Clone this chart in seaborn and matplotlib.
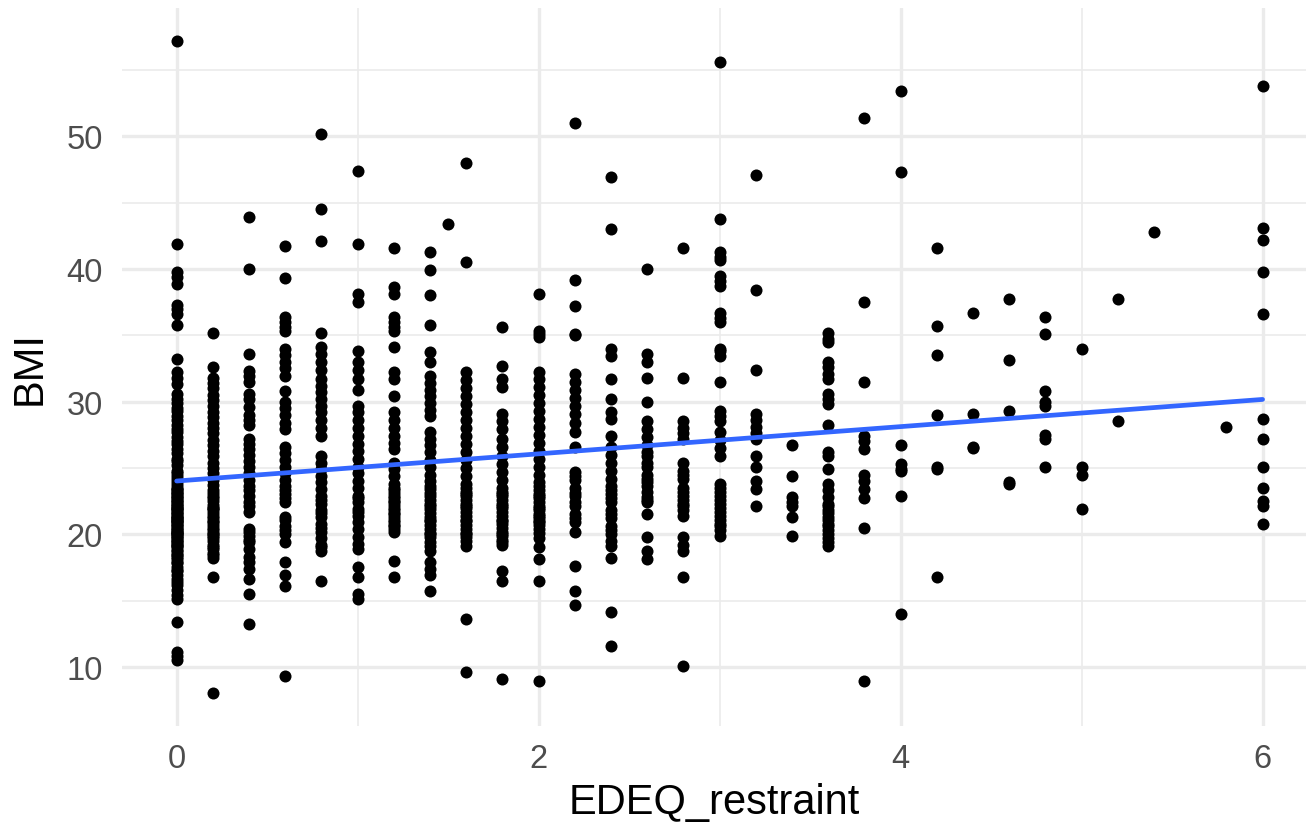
import numpy as np
import pandas as pd
import matplotlib
matplotlib.use("Agg")
import matplotlib.pyplot as plt
import seaborn as sns
from matplotlib.ticker import MultipleLocator

# BMI values, one list per EDEQ_restraint level
# (dense columns get extra overlapping points in their crowded middle)
y_00 = [57.2, 41.9, 39.8, 39.4, 38.9, 37.3, 37.0, 36.6, 35.8, 33.2, 32.2, 31.8, 31.3,
        30.6, 30.2, 29.9, 29.5, 29.3, 28.9, 28.6, 28.2, 27.9, 27.7, 27.3, 27.0, 26.8,
        26.4, 26.1, 25.7, 25.5, 25.2, 24.8, 24.6, 24.2, 23.9, 23.7, 23.4, 23.1, 22.8,
        22.6, 22.3, 22.0, 21.8, 21.5, 21.2, 21.0, 20.7, 20.5, 20.2, 20.0, 19.8, 19.5,
        19.3, 19.0, 18.7, 18.4, 18.1, 17.8, 17.5, 17.2, 16.9, 16.6, 16.2, 15.8, 15.4,
        15.1, 13.4, 11.1, 10.8, 10.5, 23.0, 22.1, 21.4, 20.9, 20.3, 21.9, 22.4, 19.6,
        23.3, 24.4, 17.9, 18.3, 18.8, 19.1, 19.4, 19.7, 20.1, 20.4, 20.6, 20.8, 21.1,
        21.3, 21.6, 21.7, 22.2, 22.5, 22.7, 22.9, 23.2, 23.5, 19.9, 20.0, 21.0, 22.0,
        18.5, 19.2, 20.2, 21.2, 17.3, 16.4]
y_02 = [35.2, 32.6, 31.8, 31.4, 31.0, 30.5, 30.1, 29.7, 29.2, 28.8, 28.4, 28.0, 27.6,
        27.1, 26.7, 26.3, 25.9, 25.4, 25.0, 24.6, 24.1, 23.7, 23.3, 22.9, 22.5, 22.0,
        21.6, 21.2, 20.7, 20.3, 19.9, 19.5, 19.0, 18.6, 18.2, 16.8, 8.0, 19.2, 19.7,
        20.1, 20.5, 20.9, 21.4, 21.8, 22.2, 22.7, 23.1, 18.4, 18.9, 20.0, 21.0, 22.0]
y_04 = [43.9, 40.0, 33.6, 32.3, 31.9, 31.5, 30.6, 30.2, 29.6, 29.0, 28.6, 28.2, 27.2,
        26.8, 26.4, 26.0, 25.5, 25.1, 24.6, 24.1, 23.6, 22.9, 22.4, 21.7, 20.4, 19.9,
        19.4, 18.9, 18.3, 17.9, 17.4, 16.6, 15.5, 13.2, 19.6, 20.2, 22.1, 23.3]
y_06 = [41.7, 39.3, 36.4, 36.0, 35.6, 35.3, 34.0, 33.5, 33.0, 32.5, 31.9, 30.8, 30.0,
        29.5, 29.0, 28.4, 27.9, 26.6, 26.1, 25.6, 25.1, 24.6, 24.1, 23.6, 23.0, 22.4,
        21.1, 20.6, 20.0, 19.4, 17.9, 16.9, 16.1, 9.3, 20.3, 21.3, 22.7, 23.3]
y_08 = [50.2, 44.5, 42.1, 35.2, 34.1, 33.6, 33.0, 32.4, 31.7, 31.2, 30.7, 30.2, 29.7,
        29.2, 28.6, 28.0, 27.4, 25.9, 25.4, 24.9, 24.4, 23.9, 23.4, 22.9, 22.3, 21.8,
        21.3, 20.8, 20.2, 19.7, 19.2, 18.7, 16.5, 19.0, 20.5, 21.6, 22.6]
y_10 = [47.4, 41.9, 38.1, 37.5, 33.8, 33.0, 32.4, 31.7, 30.9, 29.7, 29.2, 28.6, 28.0,
        27.4, 26.8, 26.3, 25.7, 25.1, 24.6, 24.0, 23.5, 22.9, 22.4, 21.9, 21.4, 20.4,
        19.8, 19.3, 18.9, 17.5, 16.8, 15.5, 15.1, 20.9, 21.7, 22.7]
y_12 = [41.6, 38.6, 38.1, 36.4, 36.0, 35.6, 35.3, 34.1, 32.2, 31.7, 30.4, 29.2, 28.6,
        28.0, 27.4, 26.9, 26.4, 25.4, 24.9, 24.4, 23.8, 23.3, 22.7, 22.2, 21.6, 21.1,
        20.6, 20.2, 18.0, 16.8, 20.4, 20.9, 21.3, 21.8, 22.0, 22.4, 22.9, 23.1, 20.7,
        21.5, 22.5, 23.5]
y_14 = [41.3, 39.9, 38.0, 35.8, 33.7, 33.0, 31.9, 31.4, 30.9, 30.4, 29.9, 29.4, 28.9,
        27.7, 27.2, 26.7, 26.2, 25.6, 25.1, 24.5, 24.0, 23.4, 22.9, 21.9, 21.3, 20.7,
        20.1, 19.4, 18.7, 17.9, 17.4, 16.9, 15.7, 19.8, 20.4, 21.0, 21.6, 22.1, 22.6,
        23.1, 19.1, 20.0, 21.1, 22.3, 23.6]
y_15 = [43.4]
y_16 = [48.0, 40.5, 32.2, 31.6, 31.0, 30.4, 29.8, 29.2, 28.6, 28.0, 27.4, 26.8, 26.2,
        25.6, 25.0, 24.4, 23.8, 23.2, 22.6, 22.0, 21.4, 20.4, 19.8, 19.1, 13.6, 9.6,
        19.5, 20.1, 20.7, 21.1, 21.7, 22.3, 22.9, 23.5, 20.0, 21.0, 22.1, 23.0]
y_18 = [35.6, 32.7, 31.7, 31.1, 29.1, 28.5, 27.9, 27.2, 26.6, 25.9, 25.3, 24.7, 24.1,
        23.5, 22.9, 22.3, 21.7, 21.1, 20.5, 19.9, 19.4, 17.2, 16.5, 9.1, 19.6, 20.2,
        20.8, 21.4, 22.0, 22.6, 23.2, 20.0, 21.0, 22.1, 23.0, 19.2]
y_20 = [38.1, 35.3, 35.1, 34.9, 32.2, 31.7, 31.1, 30.5, 29.9, 29.3, 28.7, 28.1, 27.5,
        26.9, 26.3, 25.7, 25.1, 24.5, 23.9, 23.3, 22.7, 22.1, 21.5, 21.0, 20.4, 19.0,
        18.1, 16.5, 8.9, 20.7, 21.2, 21.8, 22.4, 23.0, 23.6, 20.1, 20.9, 22.0, 22.9,
        19.7, 21.4]
y_22 = [51.0, 39.2, 37.2, 35.1, 35.0, 32.1, 31.5, 30.9, 30.3, 29.7, 29.1, 28.4, 27.7,
        26.6, 24.7, 24.1, 23.5, 22.9, 22.1, 21.5, 20.9, 20.2, 17.6, 15.7, 14.7, 21.2,
        22.4, 23.1, 24.4]
y_24 = [46.9, 43.0, 34.0, 33.4, 31.7, 30.2, 29.2, 28.7, 27.4, 26.6, 26.0, 25.4, 24.8,
        24.2, 23.6, 23.0, 22.4, 21.8, 21.2, 20.6, 20.0, 19.5, 19.1, 18.2, 14.1, 11.6,
        20.3, 21.5, 22.7, 23.3]
y_26 = [40.0, 33.6, 33.0, 31.8, 30.0, 28.5, 27.9, 27.3, 26.7, 26.2, 25.9, 25.1, 24.5,
        23.9, 23.2, 22.8, 22.4, 21.5, 19.8, 18.7, 18.1, 22.6, 23.6, 24.2, 25.4]
y_28 = [41.6, 31.8, 28.5, 28.0, 27.6, 27.2, 25.4, 24.8, 24.2, 23.5, 22.9, 22.3, 21.8,
        21.4, 19.8, 19.2, 18.7, 16.8, 10.1, 22.1, 22.6, 23.2, 24.5]
y_30 = [55.6, 43.8, 41.3, 40.9, 40.7, 39.5, 39.1, 38.7, 36.7, 36.3, 36.0, 34.0, 33.8,
        33.4, 31.5, 29.3, 28.9, 28.5, 27.7, 27.1, 26.5, 25.9, 23.8, 23.2, 22.6, 22.0,
        21.4, 20.8, 20.3, 19.9, 20.6, 21.1, 21.7, 22.3, 22.9, 23.5]
y_32 = [47.1, 38.4, 32.4, 29.1, 28.6, 28.1, 27.6, 27.2, 25.9, 25.1, 24.0, 23.4, 22.1]
y_34 = [26.7, 24.4, 22.8, 22.4, 22.1, 21.3, 19.9]
y_36 = [35.2, 34.7, 34.5, 33.0, 32.6, 32.1, 31.7, 30.6, 30.2, 29.8, 28.2, 26.2, 25.9,
        24.9, 23.8, 23.3, 22.8, 22.3, 21.8, 21.3, 20.8, 20.3, 19.7, 19.1, 19.4, 20.0,
        20.6, 21.1, 21.6, 22.1]
y_38 = [51.4, 37.5, 31.5, 27.4, 27.0, 26.4, 24.5, 24.0, 23.4, 22.7, 20.5, 8.9]
y_40 = [53.4, 47.3, 26.7, 25.3, 24.9, 24.8, 22.9, 14.0]
y_42 = [41.6, 35.7, 33.5, 29.0, 25.1, 24.9, 16.8]
y_44 = [36.7, 29.1, 26.6, 26.5]
y_46 = [37.7, 33.1, 29.3, 23.9, 23.8]
y_48 = [36.4, 35.1, 30.8, 30.0, 29.7, 27.5, 27.2, 25.1]
y_50 = [34.0, 25.1, 24.5, 21.9]
y_52 = [37.7, 28.5]
y_54 = [42.8]
y_58 = [28.1]
y_60 = [53.8, 43.1, 42.2, 39.8, 36.6, 28.7, 27.2, 25.1, 23.5, 22.5, 22.1, 20.8]

edeq_levels = [0.0, 0.2, 0.4, 0.6, 0.8, 1.0, 1.2, 1.4, 1.5, 1.6, 1.8, 2.0, 2.2, 2.4,
               2.6, 2.8, 3.0, 3.2, 3.4, 3.6, 3.8, 4.0, 4.2, 4.4, 4.6, 4.8, 5.0, 5.2,
               5.4, 5.8, 6.0]
bmi_by_level = [y_00, y_02, y_04, y_06, y_08, y_10, y_12, y_14, y_15, y_16, y_18, y_20,
                y_22, y_24, y_26, y_28, y_30, y_32, y_34, y_36, y_38, y_40, y_42, y_44,
                y_46, y_48, y_50, y_52, y_54, y_58, y_60]

df = pd.DataFrame({
    "EDEQ_restraint": [x for x, ys in zip(edeq_levels, bmi_by_level) for _ in ys],
    "BMI": [y for ys in bmi_by_level for y in ys],
})

sns.set_theme(style="white")
plt.rcParams["font.family"] = ["Liberation Sans", "DejaVu Sans"]

fig = plt.figure(figsize=(13.06, 8.29), dpi=100)
ax = fig.add_axes([0.0937, 0.123, 0.9063, 0.866])

sns.scatterplot(data=df, x="EDEQ_restraint", y="BMI", color="black",
                s=75, linewidth=0, ax=ax, zorder=3)
sns.regplot(data=df, x="EDEQ_restraint", y="BMI", scatter=False, ci=None,
            color="#3366FF", line_kws={"linewidth": 3.4, "zorder": 4}, ax=ax)

ax.set_xlim(-0.3, 6.24)
ax.set_ylim(5.54, 59.66)
ax.xaxis.set_major_locator(MultipleLocator(2))
ax.xaxis.set_minor_locator(MultipleLocator(1))
ax.yaxis.set_major_locator(MultipleLocator(10))
ax.yaxis.set_minor_locator(MultipleLocator(5))

ax.set_axisbelow(True)
ax.grid(which="major", color="#EBEBEB", linewidth=2.4)
ax.grid(which="minor", color="#EBEBEB", linewidth=1.2)
for s in ax.spines.values():
    s.set_visible(False)

ax.tick_params(which="both", length=0)
ax.tick_params(axis="both", labelsize=23.5, labelcolor="#4D4D4D")
ax.tick_params(axis="y", pad=14)
ax.tick_params(axis="x", pad=12)

ax.set_xlabel("EDEQ_restraint", fontsize=30, color="black", labelpad=6)
ax.set_ylabel("BMI", fontsize=30, color="black", labelpad=12)

fig.savefig("out.png", dpi=100, facecolor="white")
